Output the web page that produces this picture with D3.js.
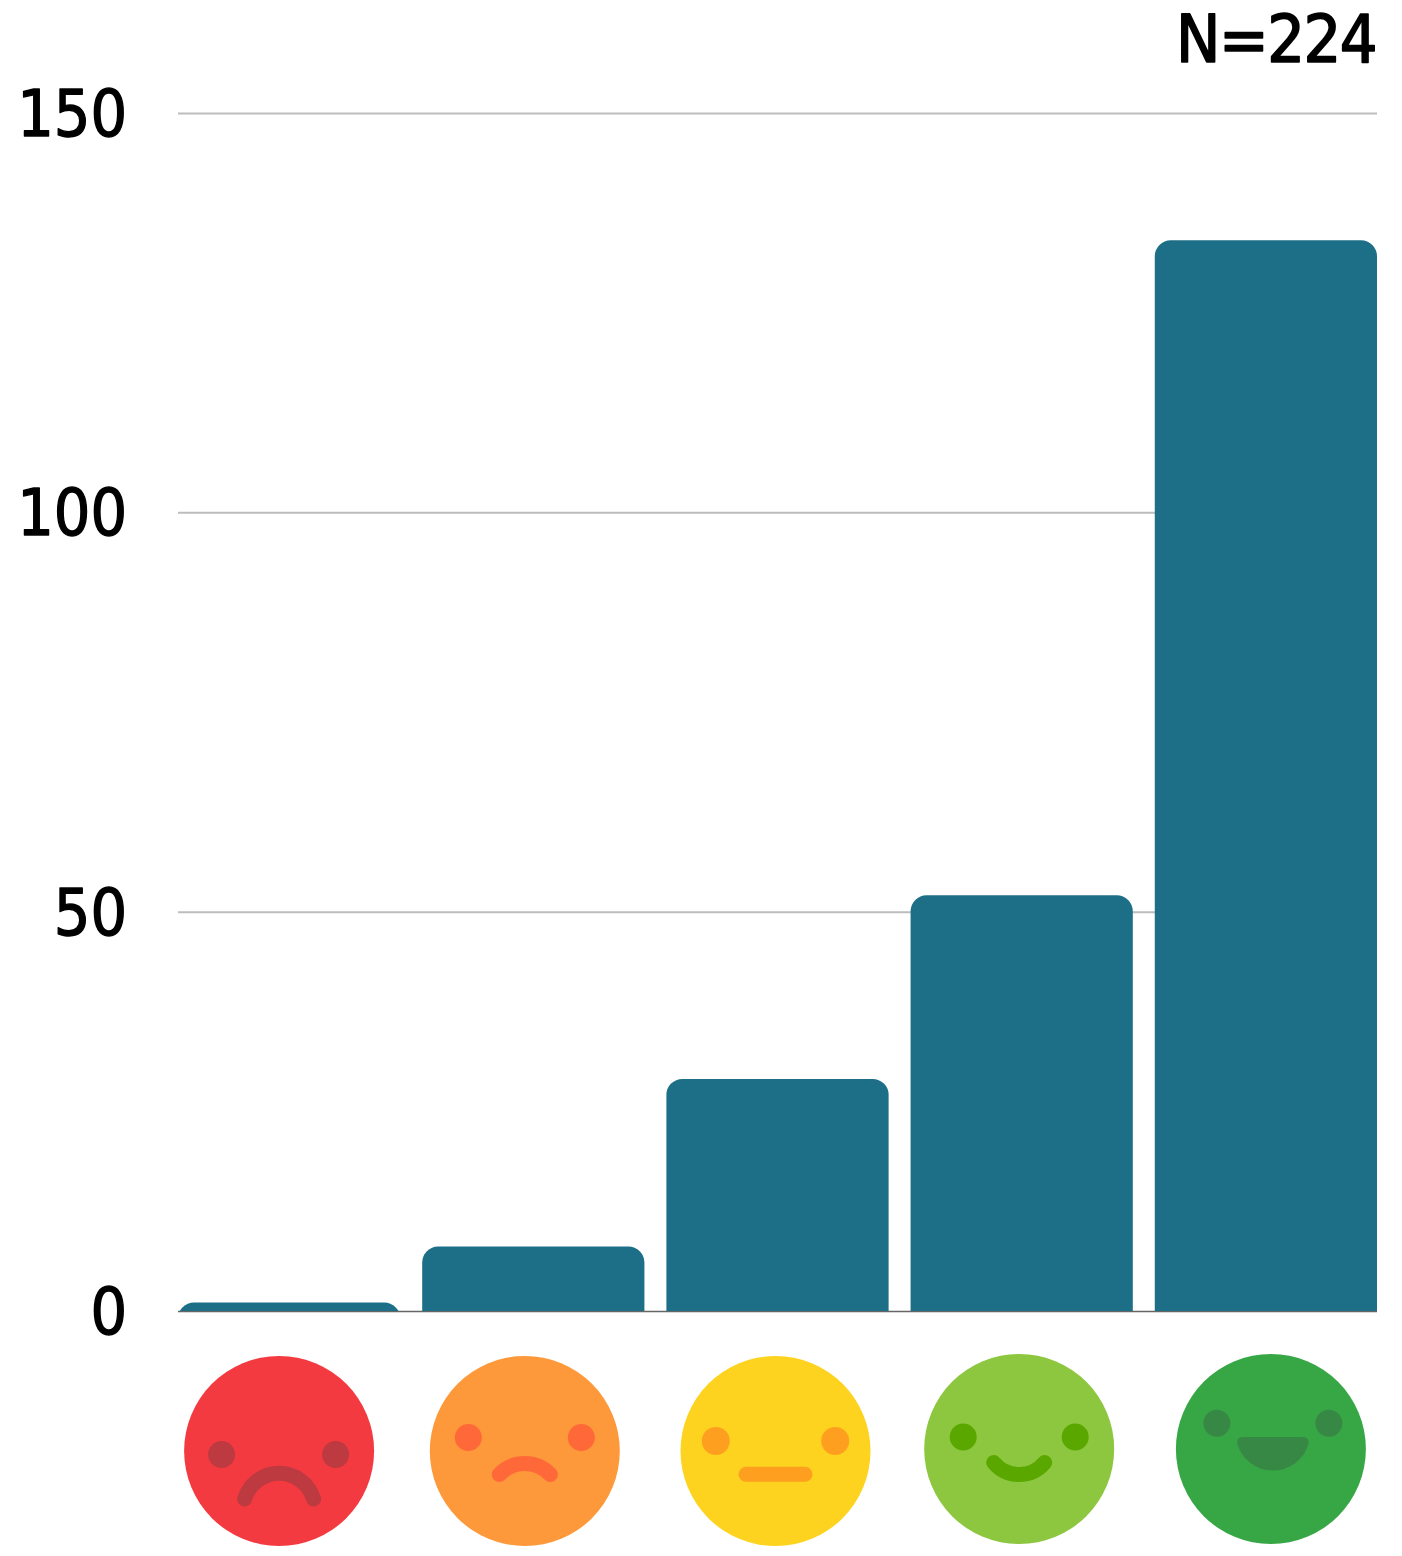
<!DOCTYPE html>
<html>
<head>
<meta charset="utf-8">
<script src="https://cdn.jsdelivr.net/npm/d3@7"></script>
<style>
  body { margin: 0; background: #fff; }
  svg { display: block; }
</style>
</head>
<body>
<script>
// Data
const categories = ["Very unhappy", "Unhappy", "Neutral", "Happy", "Very happy"];
const counts = [1, 8, 29, 52, 134];
const yTicks = [0, 50, 100, 150];
const sampleLabel = "N=224";
const faceColors = ["#f33a41", "#fd993a", "#fdd31f", "#8dc73f", "#37a745"];
const featureColors = ["#bc3a40", "#ff6838", "#ff9f20", "#5aa700", "#388845"];

// Variables
const w = 1402;
const h = 1556;
const barColor = "#1d6f87";
const fontFamily = "'DejaVu Sans Condensed', 'DejaVu Sans', sans-serif";

const svg = d3.select("body")
    .append("svg")
    .attr("width", w)
    .attr("height", h);

// Scales
const xScale = d3.scaleBand()
    .domain(categories)
    .range([178, 1377])
    .paddingInner(0.09);

const yScale = d3.scaleLinear()
    .domain([0, 150])
    .range([1311, 113]);

// Y axis with gridlines
const yAxis = d3.axisLeft(yScale)
    .tickValues(yTicks)
    .tickSize(-(1377 - 178))
    .tickPadding(51)
    .tickFormat(d3.format("d"));

const yGroup = svg.append("g")
    .attr("transform", "translate(178,0)")
    .call(yAxis);

yGroup.select(".domain").remove();
yGroup.selectAll(".tick line")
    .attr("stroke", d => d === 0 ? "#666666" : "#bdbdbd")
    .attr("stroke-width", d => d === 0 ? 1.5 : 2);
yGroup.selectAll(".tick text")
    .attr("dy", "22.5px")
    .attr("font-family", fontFamily)
    .attr("font-size", 64)
    .attr("fill", "#000")
    .attr("stroke", "#000")
    .attr("stroke-width", 1.3)
    .attr("stroke-linejoin", "round");

// Bars: rounded on top only, the clip cuts the bottom corners
svg.append("clipPath")
    .attr("id", "plot-clip")
    .append("rect")
    .attr("x", 178)
    .attr("y", 0)
    .attr("width", 1377 - 178)
    .attr("height", yScale(0));

svg.append("g")
    .attr("clip-path", "url(#plot-clip)")
    .selectAll("rect")
    .data(counts)
    .enter()
    .append("rect")
    .attr("x", (d, i) => xScale(categories[i]))
    .attr("y", d => yScale(d) - 0.5)
    .attr("width", xScale.bandwidth())
    .attr("height", d => yScale(0) - yScale(d) + 30)
    .attr("rx", 16)
    .attr("fill", barColor);

// N label
svg.append("text")
    .attr("x", 1376)
    .attr("y", 62)
    .attr("text-anchor", "end")
    .attr("font-family", fontFamily)
    .attr("font-size", 66)
    .attr("letter-spacing", "-1.5px")
    .attr("fill", "#000")
    .attr("stroke", "#000")
    .attr("stroke-width", 1.6)
    .attr("stroke-linejoin", "round")
    .text(sampleLabel);

// Faces under the bars
const faceRadius = 95;
const faceLayout = [
    { dx: -10, cy: 1451, eyeMid: -0.5, eyeX: 57, eyeY: 3.5, eyeR: 13.5,
      mouth: "M-34.5,48A36,36 0 0 1 34.5,48" },
    { dx: -8.5, cy: 1451, eyeMid: 0, eyeX: 56.5, eyeY: -13.5, eyeR: 13.5,
      mouth: "M-25.5,23.5A35,35 0 0 1 25.5,23.5" },
    { dx: -2, cy: 1451, eyeMid: 0, eyeX: 59.7, eyeY: -10, eyeR: 14,
      mouth: "M-29.5,23.3L29.5,23.3" },
    { dx: -2.5, cy: 1449, eyeMid: 0, eyeX: 56, eyeY: -12, eyeR: 13.5,
      mouth: "M-25.5,13.5A33,33 0 0 0 25.5,13.5" },
    { dx: 5, cy: 1449, eyeMid: 2, eyeX: 56, eyeY: -25.7, eyeR: 13.5,
      mouth: "M-27,-12L31,-12Q39,-12 37.5,-5A37,37 0 0 1 -33.5,-5Q-35,-12 -27,-12Z",
      filled: true }
];

const faces = svg.append("g")
    .selectAll("g")
    .data(categories)
    .enter()
    .append("g")
    .attr("transform", (d, i) => {
        const cx = xScale(d) + xScale.bandwidth() / 2 + faceLayout[i].dx;
        return `translate(${cx},${faceLayout[i].cy})`;
    });

faces.append("circle")
    .attr("r", faceRadius)
    .attr("fill", (d, i) => faceColors[i]);

[-1, 1].forEach(side => {
    faces.append("circle")
        .attr("cx", (d, i) => faceLayout[i].eyeMid + side * faceLayout[i].eyeX)
        .attr("cy", (d, i) => faceLayout[i].eyeY)
        .attr("r", (d, i) => faceLayout[i].eyeR)
        .attr("fill", (d, i) => featureColors[i]);
});

faces.append("path")
    .attr("d", (d, i) => faceLayout[i].mouth)
    .attr("fill", (d, i) => faceLayout[i].filled ? featureColors[i] : "none")
    .attr("stroke", (d, i) => faceLayout[i].filled ? "none" : featureColors[i])
    .attr("stroke-width", 15)
    .attr("stroke-linecap", "round");
</script>
</body>
</html>
